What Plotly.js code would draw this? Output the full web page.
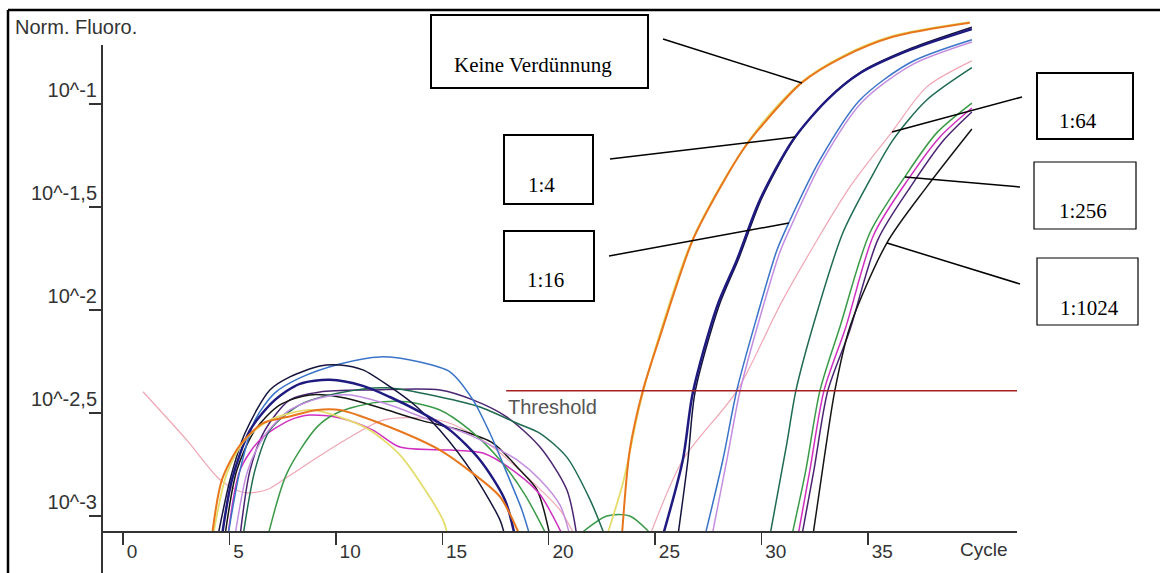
<!DOCTYPE html>
<html><head><meta charset="utf-8">
<script src="https://cdn.plot.ly/plotly-3.0.1.min.js"></script>
<style>html,body{margin:0;padding:0;background:#fff;overflow:hidden}#chart{width:1160px;height:573px}</style>
</head><body><div id="chart"></div>
<script>
// ---------------- data (cycle, normalised fluorescence) ----------------
const xTickVals = [0,5,10,15,20,25,30,35];
const xTickText = ['0','5','\u00a0\u00a010','\u00a0\u00a015','\u00a0\u00a020','\u00a0\u00a025','\u00a0\u00a030','\u00a0\u00a035'];
const yTickVals = [0.1, 0.0316228, 0.01, 0.00316228, 0.001];
const yTickText = ['10^-1','10^-1,5','10^-2','10^-2,5','10^-3'];
const dilutionLabels = ['Keine Verdünnung','1:4','1:16','1:64','1:256','1:1024'];
const thresholdValue = 0.00405;
const thresholdStart = 18;

const orangeCycles = [4.18,4.65,5.50,6.58,7.70,9.11,10.19,12.07,14.89,16.44,17.71,18.65,null,23.44,23.81,24.42,25.22,26.77,28.18,29.12,29.92,31.89,33.82,36.17,39.78];
const orangeValues = [0.0008,0.0015,0.00221,0.00282,0.00302,0.00327,0.00327,0.00282,0.00209,0.00161,0.00124,0.0008,null,0.0008,0.00209,0.00405,0.0074,0.0219,0.0414,0.0598,0.0765,0.127,0.169,0.212,0.248];

const yellowCycles = [4.23,4.88,5.73,6.90,8.78,10.19,11.60,13.01,14.09,15.03,15.27,null,22.73,23.49,24.28,24.99,26.63,28.18,29.92,31.89,33.82,36.17,39.78];
const yellowValues = [0.0008,0.00161,0.00234,0.00292,0.00327,0.00302,0.00261,0.00198,0.00139,0.000957,0.0008,null,0.0008,0.00145,0.00346,0.0064,0.0205,0.0419,0.0782,0.128,0.171,0.214,0.250];

const navyCycles = [4.65,5.12,5.97,7.14,8.31,9.72,11.27,12.54,13.95,15.36,16.77,17.94,18.41,null,25.36,26.30,26.77,27.90,28.84,29.92,31.47,33.07,34.62,36.97,39.88];
const navyValues = [0.0008,0.0015,0.00261,0.00366,0.00438,0.00458,0.00428,0.00378,0.0032,0.00261,0.00187,0.0012,0.0008,null,0.0008,0.00187,0.00396,0.01036,0.0175,0.0342,0.0668,0.1045,0.141,0.183,0.231];

const navy2Cycles = [4.46,5.03,5.73,6.90,7.84,9.25,10.19,11.27,12.54,13.81,14.89,16.44,17.71,17.94,null,26.07,26.54,26.87,27.99,28.93,30.01,31.56,33.16,34.71,37.06,39.88];
const navy2Values = [0.0008,0.0015,0.00252,0.00409,0.00473,0.00535,0.00541,0.00512,0.00424,0.00338,0.00261,0.00161,0.000957,0.0008,null,0.0008,0.00187,0.00396,0.0104,0.0178,0.0349,0.0683,0.107,0.144,0.187,0.236];

const blueCycles = [4.93,5.50,6.20,7.14,8.31,10.19,12.07,13.95,15.36,16.44,17.24,18.04,18.74,19.12,null,27.34,28.18,28.84,29.78,30.72,31.28,32.74,34.62,36.97,39.88];
const blueValues = [0.0008,0.00167,0.00292,0.00396,0.00468,0.00547,0.00592,0.00559,0.00501,0.00366,0.00252,0.00161,0.00107,0.0008,null,0.0008,0.00187,0.00409,0.00925,0.0195,0.0265,0.0535,0.1045,0.1586,0.205];

const lilacCycles = [5.26,5.87,6.67,7.84,9.25,10.66,12.54,14.42,16.30,17.71,18.51,19.59,20.53,21.00,null,27.67,28.37,28.98,29.92,30.86,31.42,32.83,34.71,37.06,39.88];
const lilacValues = [0.0008,0.00167,0.00247,0.00327,0.00374,0.00387,0.00346,0.00292,0.00247,0.00209,0.00187,0.0015,0.00113,0.0008,null,0.0008,0.00187,0.00401,0.00917,0.0191,0.026,0.0523,0.102,0.155,0.200];

const pinkCycles = [0.94,2.99,4.56,5.64,6.76,7.70,9.25,10.66,12.21,13.95,15.36,17.24,19.12,20.53,21.23,null,24.75,26.30,28.84,31.00,34.15,36.12,37.76,39.88];
const pinkValues = [0.00401,0.00234,0.0015,0.0013,0.00134,0.00154,0.00196,0.00241,0.00292,0.00299,0.00282,0.00221,0.0015,0.00107,0.0008,null,0.0008,0.00187,0.00405,0.0112,0.0396,0.0731,0.1211,0.162];

const darkGreenCycles = [5.64,6.20,6.90,8.31,10.19,12.40,14.89,16.77,18.51,19.59,20.85,21.94,22.64,null,30.39,31.19,31.61,32.50,33.82,35.09,36.17,37.76,39.88];
const darkGreenValues = [0.0008,0.00167,0.00261,0.00346,0.00396,0.00419,0.00378,0.00338,0.00282,0.00252,0.00193,0.0012,0.0008,null,0.0008,0.00226,0.00405,0.00894,0.0237,0.0428,0.0668,0.1045,0.150];

const greenCycles = [6.81,7.70,9.11,10.05,11.74,13.34,14.89,16.30,17.71,18.88,19.92,null,21.37,22.73,23.81,24.89,null,31.42,32.08,32.74,33.68,35.09,36.73,38.23,39.88];
const greenValues = [0.0008,0.00161,0.0027,0.00316,0.00354,0.00358,0.00327,0.00261,0.00187,0.00127,0.0008,null,0.0008,0.001,0.001,0.0008,null,0.0008,0.00167,0.00405,0.00827,0.0237,0.0443,0.0724,0.101];

const magentaCycles = [4.93,5.50,6.43,7.84,8.78,10.19,11.74,13.01,15.36,16.91,18.51,19.59,20.67,null,31.71,32.27,32.93,33.96,35.27,36.87,38.38,39.88];
const magentaValues = [0.0008,0.00167,0.00234,0.00292,0.00309,0.00299,0.00261,0.00216,0.00209,0.00202,0.00161,0.00127,0.0008,null,0.0008,0.00167,0.00405,0.00827,0.0232,0.0428,0.0692,0.0956];

const blackCycles = [4.79,5.35,6.20,7.37,8.78,10.43,12.07,13.95,15.83,17.38,18.65,19.45,20.06,null,32.41,32.93,33.44,34.15,35.89,37.76,39.88];
const blackValues = [0.0008,0.00167,0.00261,0.00346,0.00387,0.00374,0.00335,0.00292,0.00261,0.00226,0.00167,0.00134,0.0008,null,0.0008,0.00187,0.00405,0.00827,0.0212,0.0396,0.0756];

const purpleCycles = [5.50,5.97,6.67,7.84,9.25,11.74,14.89,16.44,18.04,19.59,20.85,21.32,null,31.89,32.46,33.11,34.15,35.46,37.06,38.56,39.88];
const purpleValues = [0.0008,0.00167,0.00261,0.00366,0.004,0.00409,0.00409,0.00366,0.00302,0.00216,0.00134,0.0008,null,0.0008,0.00167,0.00405,0.008,0.0219,0.0405,0.0668,0.0914];

// ---------------- traces ----------------
function curve(x, y, color, width) {
  return {type:'scatter', mode:'lines', x:x, y:y, connectgaps:false, hoverinfo:'skip', showlegend:false,
          line:{color:color, width:width, shape:'spline', smoothing:0.8}};
}
const traces = [
  curve(pinkCycles, pinkValues, '#f0a6b4', 1.2),
  curve(purpleCycles, purpleValues, '#4a2470', 1.5),
  curve(blackCycles, blackValues, '#151515', 1.5),
  curve(magentaCycles, magentaValues, '#d030c0', 1.5),
  curve(greenCycles, greenValues, '#3a9a48', 1.5),
  curve(darkGreenCycles, darkGreenValues, '#1f6b50', 1.5),
  curve(lilacCycles, lilacValues, '#c48ee0', 1.5),
  curve(blueCycles, blueValues, '#3a74c8', 1.5),
  curve(navy2Cycles, navy2Values, '#14143c', 1.5),
  curve(navyCycles, navyValues, '#1f1a80', 2.5),
  curve(yellowCycles, yellowValues, '#e4dc6c', 1.8),
  curve(orangeCycles, orangeValues, '#e8761c', 2)
];

// ---------------- layout helpers (pixel -> paper) ----------------
const PL = 102, PR = 1017, PT = 12, PB = 531;
const toPX = v => (v - PL) / (PR - PL);
const toPY = v => (PB - v) / (PB - PT);
const xMax = 42.0;

const boxes = [
  {x0:431, y0:15,  x1:648,  y1:88,  w:2,   tx:452,  ty:65,  l:[663,39,802,83]},
  {x0:504, y0:135, x1:593,  y1:204, w:2,   tx:526,  ty:185, l:[610,159,795,137]},
  {x0:504, y0:231, x1:594,  y1:301, w:2,   tx:525,  ty:280, l:[609,256,789,223]},
  {x0:1037,y0:73,  x1:1133, y1:139, w:2,   tx:1057, ty:121, l:[1022,97,892,132]},
  {x0:1034,y0:162, x1:1136, y1:229, w:1.2, tx:1057, ty:211, l:[1020,187,905,177]},
  {x0:1037,y0:258, x1:1138, y1:325, w:1.2, tx:1058, ty:308, l:[1020,284,887,243]}
];

const shapes = [
  // outer frame
  {type:'line', xref:'paper', yref:'paper', x0:toPX(8), y0:toPY(10), x1:toPX(1170), y1:toPY(10), line:{color:'#000', width:2.5}},
  {type:'line', xref:'paper', yref:'paper', x0:toPX(8), y0:toPY(10), x1:toPX(8), y1:toPY(580), line:{color:'#000', width:2.5}},
  // y axis line (starts below the top of the plot area and continues below the x axis)
  {type:'line', xref:'paper', yref:'paper', x0:0, y0:toPY(45), x1:0, y1:toPY(580), line:{color:'#333', width:2}},
  // threshold
  {type:'line', xref:'x', yref:'y', x0:thresholdStart, x1:xMax, y0:thresholdValue, y1:thresholdValue, line:{color:'#a52020', width:1.5}}
];
const annotations = [
  {xref:'paper', yref:'paper', x:toPX(13), y:toPY(27), xanchor:'left', yanchor:'middle', showarrow:false,
   text:'Norm. Fluoro.', font:{size:20, color:'#333'}},
  {xref:'x', yref:'paper', x:40, y:0, xanchor:'center', yanchor:'top', xshift:10, yshift:-6, showarrow:false,
   text:'Cycle', font:{size:19, color:'#333'}},
  {xref:'x', yref:'y', x:thresholdStart, y:Math.log10(thresholdValue), xanchor:'left', yanchor:'top', yshift:-3, showarrow:false,
   text:'Threshold', font:{size:20, color:'#555'}}
];
boxes.forEach((b, i) => {
  shapes.push({type:'rect', xref:'paper', yref:'paper', x0:toPX(b.x0), x1:toPX(b.x1), y0:toPY(b.y0), y1:toPY(b.y1),
               line:{color:'#000', width:b.w}, fillcolor:'rgba(0,0,0,0)'});
  shapes.push({type:'line', xref:'paper', yref:'paper', x0:toPX(b.l[0]), y0:toPY(b.l[1]), x1:toPX(b.l[2]), y1:toPY(b.l[3]),
               line:{color:'#000', width:1.5}});
  annotations.push({xref:'paper', yref:'paper', x:toPX(b.tx), y:toPY(b.ty), xanchor:'left', yanchor:'middle', showarrow:false,
                    text:dilutionLabels[i], font:{family:'Liberation Serif, Times New Roman, serif', size:21, color:'#000'}});
});

const layout = {
  width:1160, height:573,
  margin:{l:PL, r:1160-PR, t:PT, b:573-PB, pad:0},
  paper_bgcolor:'#fff', plot_bgcolor:'#fff', showlegend:false,
  font:{family:'Liberation Sans, Arial, sans-serif', color:'#333'},
  xaxis:{range:[-0.986, xMax], tickmode:'array', tickvals:xTickVals, ticktext:xTickText,
         ticks:'outside', ticklen:12, tickwidth:1.5, tickcolor:'#333',
         showline:true, linecolor:'#333', linewidth:2, showgrid:false, zeroline:false,
         tickfont:{size:19, color:'#333'}, ticklabelshift:9, ticklabelstandoff:-10, fixedrange:true},
  yaxis:{type:'log', range:[-3.073, -0.5534], tickmode:'array', tickvals:yTickVals, ticktext:yTickText,
         ticks:'outside', ticklen:12, tickwidth:1.5, tickcolor:'#333',
         showline:false, showgrid:false, zeroline:false,
         tickfont:{size:20, color:'#333'}, ticklabelshift:-14, ticklabelstandoff:-12, fixedrange:true},
  shapes:shapes, annotations:annotations
};

Plotly.newPlot('chart', traces, layout, {displayModeBar:false, staticPlot:true});
</script>
</body></html>
